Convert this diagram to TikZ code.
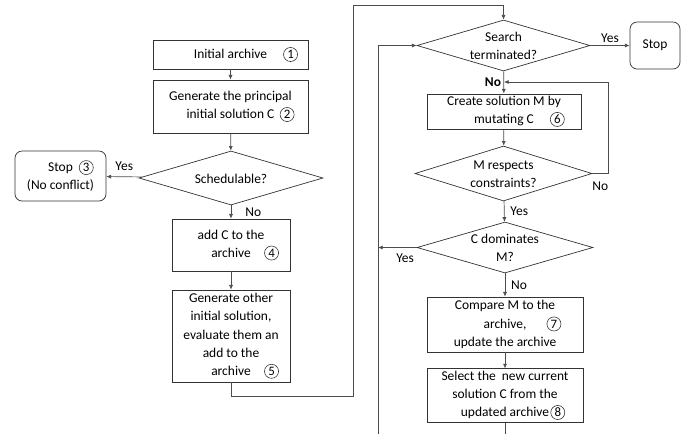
\documentclass[tikz,border=0pt]{standalone}
\usepackage{fontspec}
\setmainfont{Carlito}
\usetikzlibrary{shapes.geometric,arrows.meta}
\newcommand{\cnum}[2][0.4em]{\rlap{\hspace{#1}\tikz[baseline=(cn.base)]\node[draw=black!80,circle,minimum size=12pt,inner sep=0pt,line width=0.5pt,font=\fontsize{11}{11}\selectfont](cn){#2};}}
\newcommand{\dtext}[1]{\smash{\raisebox{-4.5pt}{\begin{tabular}{@{}c@{}}#1\end{tabular}}}}

\begin{document}
\begin{tikzpicture}[x=0.03cm,y=-0.03cm,
  box/.style={draw=black!80,line width=0.6pt,align=center,inner sep=2pt,font=\fontsize{11.5}{15.5}\selectfont},
  rbox/.style={box,rounded corners=6pt},
  dec/.style={diamond,draw=black!80,line width=0.6pt,inner sep=0pt,aspect=3,font=\fontsize{11.5}{15.5}\selectfont},
  arr/.style={draw=black!70,line width=0.6pt,-{Latex[length=4pt,width=3.5pt]}},
  lab/.style={font=\fontsize{11.5}{13}\selectfont,inner sep=2pt}]
\useasboundingbox (0,0) rectangle (690,434);
% left column
\node[box,minimum width=4.65cm,minimum height=0.87cm] (init) at (230.5,54.5) {Initial archive\cnum[1.2em]{1}};
\node[box,minimum width=4.65cm,minimum height=1.59cm] (gen) at (230.5,106.5) {Generate the principal\\initial solution C\cnum[0.4em]{2}};
\node[dec,minimum width=5.52cm,minimum height=1.62cm] (sched) at (231,178) {\dtext{Schedulable?}};
\node[rbox,minimum width=2.73cm,minimum height=1.5cm] (stop1) at (60.5,176) {Stop\cnum[0.45em]{3}\\(No conflict)};
\node[box,minimum width=3.54cm,minimum height=1.56cm] (add) at (231,245) {add C to the\\archive\cnum[1em]{4}};
\node[box,minimum width=3.54cm,minimum height=2.76cm] (other) at (231,336) {Generate other\\initial solution,\\evaluate them an\\add to the\\archive\cnum[1em]{5}};
% right column
\node[dec,minimum width=5.19cm,minimum height=1.53cm] (search) at (503.5,45.5) {\dtext{Search\\terminated?}};
\node[rbox,minimum width=1.5cm,minimum height=1.41cm] (stop2) at (655,45.5) {Stop};
\node[box,minimum width=4.62cm,minimum height=1.05cm] (mut) at (504,111.5) {Create solution M by\\mutating C\cnum[1.2em]{6}};
\node[dec,minimum width=5.31cm,minimum height=1.65cm] (resp) at (503.5,173.5) {\dtext{M respects\\constraints?}};
\node[dec,minimum width=5.28cm,minimum height=1.53cm] (dom) at (505,247.5) {\dtext{C dominates\\M?}};
\node[box,minimum width=4.68cm,minimum height=1.65cm] (cmp) at (505,324.5) {Compare M to the\\archive,\cnum[1.5em]{7}\\update the archive};
\node[box,minimum width=4.68cm,minimum height=1.53cm] (sel) at (505,395.5) {Select the\ \ new current\\solution C from the\\updated archive\cnum[0.1em]{8}};
\coordinate (m1) at (504,82);
\coordinate (e1) at (505,434);
\coordinate (e2) at (378,434);
% connectors
\draw[arr] (init) -- (gen);
\draw[arr] (gen) -- (sched);
\draw[arr] (sched) -- node[lab,above=3pt]{Yes} (stop1);
\draw[arr] (sched) -- node[lab,right=10pt]{No} (add);
\draw[arr] (add) -- (other);
\draw[arr] (other.south) -- ++(0,14) -| (353,5) -| (search.north);
\draw[arr] (search) -- node[lab,above]{Yes} (stop2);
\draw[arr] (search) -- node[lab,left]{\bfseries No} (mut);
\draw[arr] (mut) -- (resp);
\draw[arr] (resp.east) -- node[lab,below=5pt]{No} ++(16,0) |- (m1);
\draw[arr] (resp) -- node[lab,right=3pt]{Yes} (dom);
\draw[arr] (dom.west) -- node[lab,below=3pt,pos=0.3]{Yes} (dom.west -| e2);
\draw[arr] (dom) -- node[lab,right=3pt]{No} (cmp);
\draw[arr] (cmp) -- (sel);
\draw[draw=black!70,line width=0.6pt] (sel) -- (e1);
\draw[arr] (e2) |- (search.west);
\end{tikzpicture}
\end{document}
